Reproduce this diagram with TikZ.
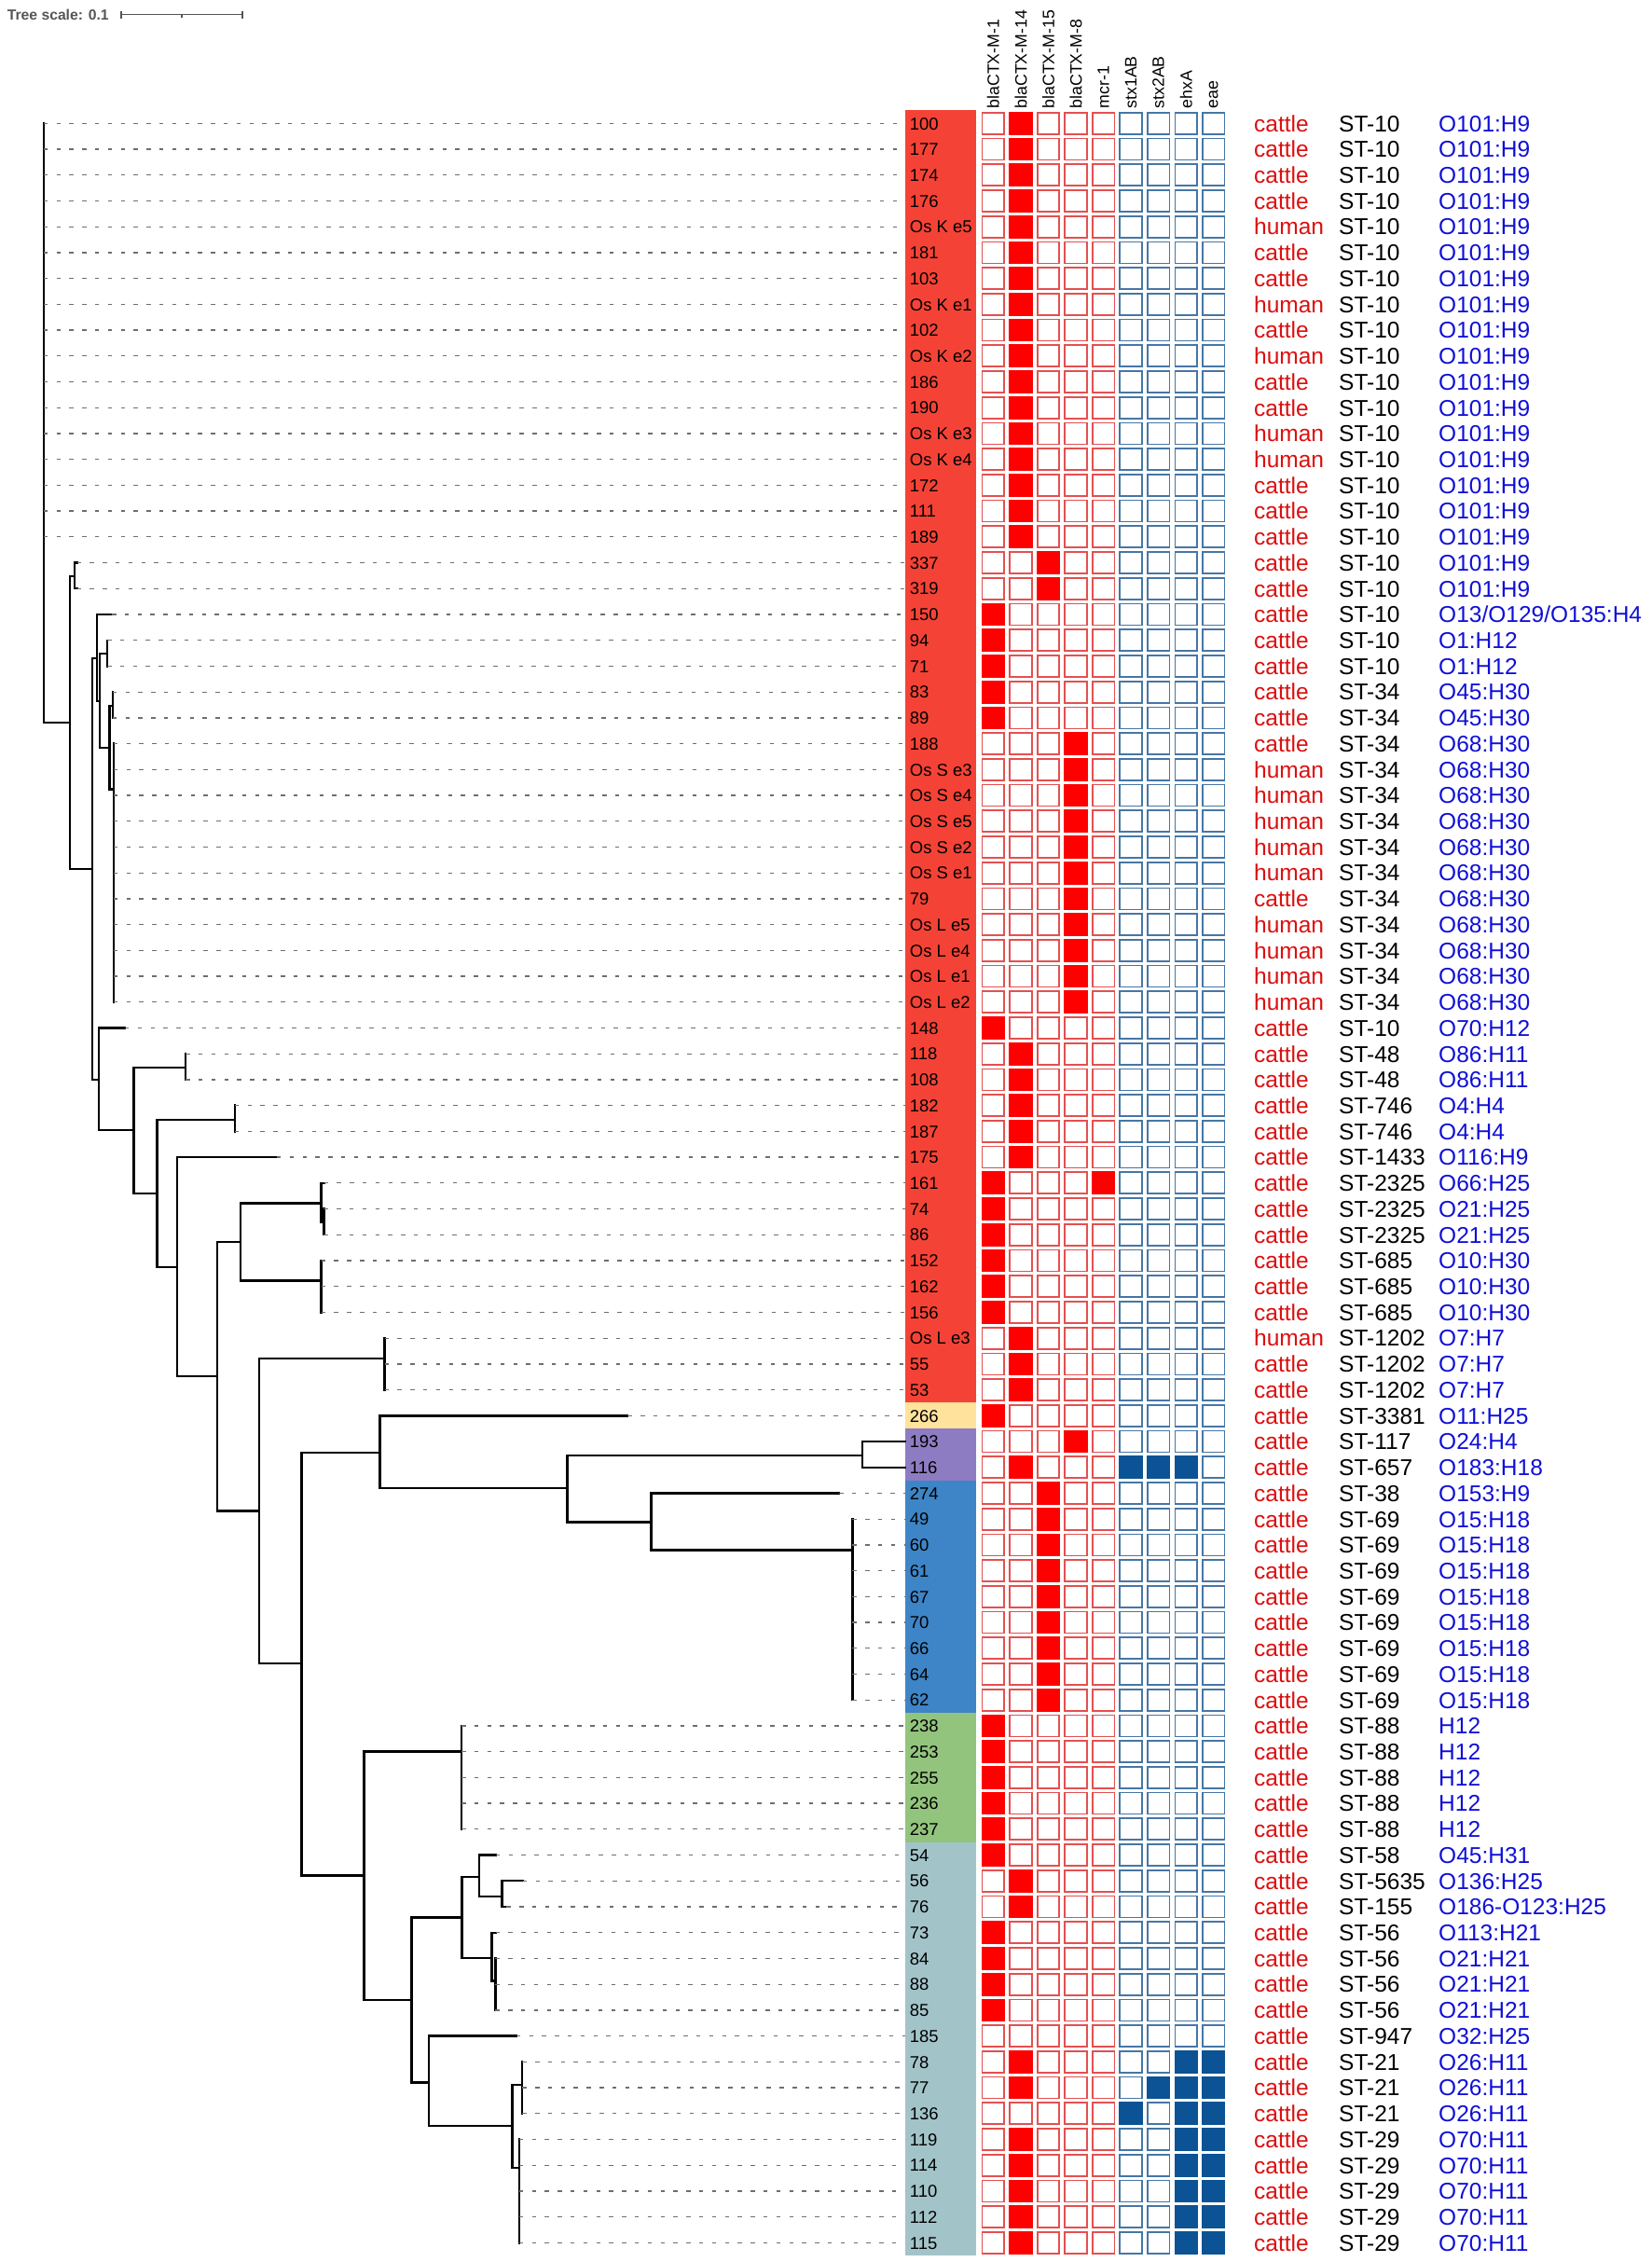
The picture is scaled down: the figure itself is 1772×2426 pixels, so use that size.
\documentclass[tikz,border=0pt]{standalone}
\usepackage{fontspec}
\setmainfont{Liberation Sans}
\definecolor{sred}{RGB}{244,67,54}
\definecolor{syellow}{RGB}{255,226,156}
\definecolor{spurple}{RGB}{142,124,195}
\definecolor{sblue}{RGB}{61,133,198}
\definecolor{sgreen}{RGB}{147,196,125}
\definecolor{steal}{RGB}{162,196,201}
\definecolor{boxred}{RGB}{228,80,80}
\definecolor{boxblue}{RGB}{70,118,165}
\definecolor{fillred}{RGB}{255,0,0}
\definecolor{fillblue}{RGB}{11,83,148}
\definecolor{hostred}{RGB}{220,15,15}
\definecolor{serblue}{RGB}{15,15,215}
\definecolor{dashgray}{RGB}{110,110,110}
\definecolor{scalegray}{RGB}{85,85,85}
\newcommand\tbh[3]{\draw[br] (#1,{ry(#3)}) -- (#2,{ry(#3)});}
\newcommand\tbv[3]{\draw[br] (#1,{ry(#2)}) -- (#1,{ry(#3)});}
\newcommand\tleaf[2]{\draw[dl] (#1,{ry(#2)}) -- (970.7,{ry(#2)});}
\newcommand\tsleaf[3]{\draw[br] (#1,{ry(#3)}) -- (#2,{ry(#3)}); \draw[dl] (#2,{ry(#3)}) -- (970.7,{ry(#3)});}
\newcommand\isorow[5]{%
  \node[lab] (l#1) at (975.7,{ry(#1)+6.7}) {#2};
  \node[host] (h#1) at (1345,{ry(#1)+8.8}) {#3};
  \node[stt] (s#1) at (1436,{ry(#1)+8.8}) {#4};
  \node[sero] (o#1) at (1543,{ry(#1)+8.8}) {#5};}
\newcommand\fillcol[3]{\foreach \r in {#3} {\node[#1] at ({1065.4+29.54*(#2-1)},{ry(\r)}) {};}}
\begin{document}
\begin{tikzpicture}[x=1pt,y=-1pt,
  declare function={ry(\r)=132.3+(\r-1)*27.72;},
  br/.style={line width=2.4pt,black,line cap=rect},
  dl/.style={line width=1.3pt,dashgray,dash pattern=on 4.5pt off 9.3pt},
  lab/.style={anchor=base west,inner sep=0pt,font=\fontsize{18.5}{20}\selectfont},
  host/.style={anchor=base west,inner sep=0pt,text=hostred,font=\fontsize{24.5}{26}\selectfont},
  stt/.style={anchor=base west,inner sep=0pt,text=black,font=\fontsize{24.5}{26}\selectfont},
  sero/.style={anchor=base west,inner sep=0pt,text=serblue,font=\fontsize{24.5}{26}\selectfont},
  head/.style={anchor=west,rotate=90,inner sep=0pt,font=\fontsize{17.7}{19}\selectfont},
  gbox/.style={rectangle,inner sep=0pt,minimum width=23.6pt,minimum height=23pt,line width=1.7pt},
  ered/.style={gbox,draw=boxred,fill=white},
  eblue/.style={gbox,draw=boxblue,fill=white},
  fred/.style={gbox,draw=fillred,fill=fillred},
  fblue/.style={gbox,draw=fillblue,fill=fillblue}]
\useasboundingbox (0,0) rectangle (1772,2426);
\fill[white] (0,0) rectangle (1772,2426);
% tree scale
\node[anchor=base west,inner sep=0pt,text=scalegray,font=\bfseries\fontsize{15.7}{17}\selectfont] (ts) at (7.7,21.3) {Tree scale: 0.1};
\coordinate (sb1) at (130,15.5);
\coordinate (sb2) at (260,15.5);
\draw[scalegray,line width=1.4pt] (sb1) -- (sb2);
\draw[scalegray,line width=1.4pt] (130,11.5) -- (130,19.5) (260,11.5) -- (260,19.5) (195,15.5) -- (195,18.5);
% colour strip
\fill[sred] (970.7,{ry(1)-13.86}) rectangle (1047.3,{ry(50)+13.86});
\fill[syellow] (970.7,{ry(51)-13.86}) rectangle (1047.3,{ry(51)+13.86});
\fill[spurple] (970.7,{ry(52)-13.86}) rectangle (1047.3,{ry(53)+13.86});
\fill[sblue] (970.7,{ry(54)-13.86}) rectangle (1047.3,{ry(62)+13.86});
\fill[sgreen] (970.7,{ry(63)-13.86}) rectangle (1047.3,{ry(67)+13.86});
\fill[steal] (970.7,{ry(68)-13.86}) rectangle (1047.3,{ry(83)+13.86});
% tree
\tbv{46.7}{1}{24.19}
\foreach \r in {1,...,17} {\tleaf{46.7}{\r}}
\tbh{46.7}{75}{24.19}
\tbv{75}{18.53}{29.84}
\tbh{75}{80}{18.53}
\tbv{80}{18}{19}
\tsleaf{80}{82.5}{18}
\tsleaf{80}{82.5}{19}
\tbh{75}{99}{29.84}
\tbv{99}{21.69}{38}
\tbh{99}{104}{21.69}
\tbv{104}{20.04}{23.35}
\tsleaf{104}{120}{20}
\tbh{104}{106.7}{23.35}
\tbv{106.7}{21.52}{25.15}
\tbh{106.7}{115}{21.52}
\tbv{115}{21}{22}
\tleaf{115}{21}
\tleaf{115}{22}
\tbh{106.7}{117.3}{25.15}
\tbv{117.3}{23.54}{26.76}
\tbh{117.3}{120.7}{23.54}
\tbv{120.7}{23}{24}
\tleaf{120.7}{23}
\tleaf{120.7}{24}
\tbh{117.3}{121.7}{26.76}
\tbv{121.7}{25}{35}
\foreach \r in {25,...,35} {\tleaf{121.7}{\r}}
\tbh{99}{106.25}{38}
\tbv{106.25}{36.04}{39.96}
\tsleaf{106.25}{133.9}{36}
\tbh{106.25}{143.3}{39.96}
\tbv{143.3}{37.53}{42.41}
\tbh{143.3}{199.1}{37.53}
\tbv{199.1}{37}{38}
\tleaf{199.1}{37}
\tleaf{199.1}{38}
\tbh{143.3}{168.3}{42.41}
\tbv{168.3}{39.55}{45.25}
\tbh{168.3}{251.8}{39.55}
\tbv{251.8}{39}{40}
\tleaf{251.8}{39}
\tleaf{251.8}{40}
\tbh{168.3}{189.7}{45.25}
\tbv{189.7}{41.04}{49.48}
\tsleaf{189.7}{296.9}{41}
\tbh{189.7}{233}{49.48}
\tbv{233}{44.28}{54.68}
\tbh{233}{258}{44.28}
\tbv{258}{42.78}{45.78}
\tbh{258}{344.6}{42.78}
\tbv{344.6}{42}{43.5}
\tsleaf{344.6}{347.5}{42}
\tbh{344.6}{347.3}{43.5}
\tbv{347.3}{43}{44}
\tleaf{347.3}{43}
\tleaf{347.3}{44}
\tbh{258}{344.6}{45.78}
\tbv{344.6}{45}{47}
\foreach \r in {45,46,47} {\tleaf{344.6}{\r}}
\tbh{233}{277.7}{54.68}
\tbv{277.7}{48.79}{60.59}
\tbh{277.7}{412.5}{48.79}
\tbv{412.5}{48}{50}
\foreach \r in {48,49,50} {\tleaf{412.5}{\r}}
\tbh{277.7}{323.4}{60.59}
\tbv{323.4}{52.43}{68.79}
\tbh{323.4}{407.6}{52.43}
\tbv{407.6}{51.03}{53.81}
\tsleaf{407.6}{673.2}{51}
\tbh{407.6}{608.5}{53.81}
\tbv{608.5}{52.53}{55.12}
\tbh{608.5}{925}{52.53}
\tbv{925}{52}{53}
\tbh{925}{970.7}{52}
\tbh{925}{970.7}{53}
\tbh{608.5}{698.3}{55.12}
\tbv{698.3}{54.04}{56.2}
\tsleaf{698.3}{900}{54}
\tbh{698.3}{914.3}{56.2}
\tbv{914.3}{55}{62}
\foreach \r in {55,...,62} {\tleaf{914.3}{\r}}
\tbh{323.4}{390.5}{68.79}
\tbv{390.5}{64}{73.6}
\tbh{390.5}{495}{64}
\tbv{495}{63}{67}
\foreach \r in {63,...,67} {\tleaf{495}{\r}}
\tbh{390.5}{441.3}{73.6}
\tbv{441.3}{70.41}{76.8}
\tbh{441.3}{495.5}{70.41}
\tbv{495.5}{68.85}{71.99}
\tbh{495.5}{513.9}{68.85}
\tbv{513.9}{68}{69.6}
\tsleaf{513.9}{531.8}{68}
\tbh{513.9}{538.3}{69.6}
\tbv{538.3}{69}{70}
\tsleaf{538.3}{560.7}{69}
\tsleaf{538.3}{543.3}{70}
\tbh{495.5}{527.4}{71.99}
\tbv{527.4}{71}{72.87}
\tsleaf{527.4}{531.5}{71}
\tbh{527.4}{531.3}{72.87}
\tbv{531.3}{72}{74}
\foreach \r in {72,73,74} {\tleaf{531.3}{\r}}
\tbh{441.3}{460.2}{76.8}
\tbv{460.2}{75}{78.48}
\tsleaf{460.2}{553.7}{75}
\tbh{460.2}{549.3}{78.48}
\tbv{549.3}{76.88}{80.09}
\tbh{549.3}{560.2}{76.88}
\tbv{560.2}{76}{78}
\foreach \r in {76,77,78} {\tleaf{560.2}{\r}}
\tbh{549.3}{556.7}{80.09}
\tbv{556.7}{79}{83}
\foreach \r in {79,...,83} {\tleaf{556.7}{\r}}
% headers
\foreach \c/\t in {1/blaCTX-M-1,2/blaCTX-M-14,3/blaCTX-M-15,4/blaCTX-M-8,5/mcr-1,6/stx1AB,7/stx2AB,8/ehxA,9/eae}
  {\node[head] (hd\c) at ({1065.4+29.54*(\c-1)},116.5) {\t};}
% boxes
\foreach \r in {1,...,83} {
  \foreach \c in {1,...,5} {\node[ered] at ({1065.4+29.54*(\c-1)},{ry(\r)}) {};}
  \foreach \c in {6,...,9} {\node[eblue] at ({1065.4+29.54*(\c-1)},{ry(\r)}) {};}
}
\fillcol{fred}{1}{20,21,22,23,24,36,42,43,44,45,46,47,51,63,64,65,66,67,68,71,72,73,74}
\fillcol{fred}{2}{1,2,3,4,5,6,7,8,9,10,11,12,13,14,15,16,17,37,38,39,40,41,48,49,50,53,69,70,76,77,79,80,81,82,83}
\fillcol{fred}{3}{18,19,54,55,56,57,58,59,60,61,62}
\fillcol{fred}{4}{25,26,27,28,29,30,31,32,33,34,35,52}
\fillcol{fred}{5}{42}
\fillcol{fblue}{6}{53,78}
\fillcol{fblue}{7}{53,77}
\fillcol{fblue}{8}{53,76,77,78,79,80,81,82,83}
\fillcol{fblue}{9}{76,77,78,79,80,81,82,83}
% rows
\isorow{1}{100}{cattle}{ST-10}{O101:H9}
\isorow{2}{177}{cattle}{ST-10}{O101:H9}
\isorow{3}{174}{cattle}{ST-10}{O101:H9}
\isorow{4}{176}{cattle}{ST-10}{O101:H9}
\isorow{5}{Os K e5}{human}{ST-10}{O101:H9}
\isorow{6}{181}{cattle}{ST-10}{O101:H9}
\isorow{7}{103}{cattle}{ST-10}{O101:H9}
\isorow{8}{Os K e1}{human}{ST-10}{O101:H9}
\isorow{9}{102}{cattle}{ST-10}{O101:H9}
\isorow{10}{Os K e2}{human}{ST-10}{O101:H9}
\isorow{11}{186}{cattle}{ST-10}{O101:H9}
\isorow{12}{190}{cattle}{ST-10}{O101:H9}
\isorow{13}{Os K e3}{human}{ST-10}{O101:H9}
\isorow{14}{Os K e4}{human}{ST-10}{O101:H9}
\isorow{15}{172}{cattle}{ST-10}{O101:H9}
\isorow{16}{111}{cattle}{ST-10}{O101:H9}
\isorow{17}{189}{cattle}{ST-10}{O101:H9}
\isorow{18}{337}{cattle}{ST-10}{O101:H9}
\isorow{19}{319}{cattle}{ST-10}{O101:H9}
\isorow{20}{150}{cattle}{ST-10}{O13/O129/O135:H4}
\isorow{21}{94}{cattle}{ST-10}{O1:H12}
\isorow{22}{71}{cattle}{ST-10}{O1:H12}
\isorow{23}{83}{cattle}{ST-34}{O45:H30}
\isorow{24}{89}{cattle}{ST-34}{O45:H30}
\isorow{25}{188}{cattle}{ST-34}{O68:H30}
\isorow{26}{Os S e3}{human}{ST-34}{O68:H30}
\isorow{27}{Os S e4}{human}{ST-34}{O68:H30}
\isorow{28}{Os S e5}{human}{ST-34}{O68:H30}
\isorow{29}{Os S e2}{human}{ST-34}{O68:H30}
\isorow{30}{Os S e1}{human}{ST-34}{O68:H30}
\isorow{31}{79}{cattle}{ST-34}{O68:H30}
\isorow{32}{Os L e5}{human}{ST-34}{O68:H30}
\isorow{33}{Os L e4}{human}{ST-34}{O68:H30}
\isorow{34}{Os L e1}{human}{ST-34}{O68:H30}
\isorow{35}{Os L e2}{human}{ST-34}{O68:H30}
\isorow{36}{148}{cattle}{ST-10}{O70:H12}
\isorow{37}{118}{cattle}{ST-48}{O86:H11}
\isorow{38}{108}{cattle}{ST-48}{O86:H11}
\isorow{39}{182}{cattle}{ST-746}{O4:H4}
\isorow{40}{187}{cattle}{ST-746}{O4:H4}
\isorow{41}{175}{cattle}{ST-1433}{O116:H9}
\isorow{42}{161}{cattle}{ST-2325}{O66:H25}
\isorow{43}{74}{cattle}{ST-2325}{O21:H25}
\isorow{44}{86}{cattle}{ST-2325}{O21:H25}
\isorow{45}{152}{cattle}{ST-685}{O10:H30}
\isorow{46}{162}{cattle}{ST-685}{O10:H30}
\isorow{47}{156}{cattle}{ST-685}{O10:H30}
\isorow{48}{Os L e3}{human}{ST-1202}{O7:H7}
\isorow{49}{55}{cattle}{ST-1202}{O7:H7}
\isorow{50}{53}{cattle}{ST-1202}{O7:H7}
\isorow{51}{266}{cattle}{ST-3381}{O11:H25}
\isorow{52}{193}{cattle}{ST-117}{O24:H4}
\isorow{53}{116}{cattle}{ST-657}{O183:H18}
\isorow{54}{274}{cattle}{ST-38}{O153:H9}
\isorow{55}{49}{cattle}{ST-69}{O15:H18}
\isorow{56}{60}{cattle}{ST-69}{O15:H18}
\isorow{57}{61}{cattle}{ST-69}{O15:H18}
\isorow{58}{67}{cattle}{ST-69}{O15:H18}
\isorow{59}{70}{cattle}{ST-69}{O15:H18}
\isorow{60}{66}{cattle}{ST-69}{O15:H18}
\isorow{61}{64}{cattle}{ST-69}{O15:H18}
\isorow{62}{62}{cattle}{ST-69}{O15:H18}
\isorow{63}{238}{cattle}{ST-88}{H12}
\isorow{64}{253}{cattle}{ST-88}{H12}
\isorow{65}{255}{cattle}{ST-88}{H12}
\isorow{66}{236}{cattle}{ST-88}{H12}
\isorow{67}{237}{cattle}{ST-88}{H12}
\isorow{68}{54}{cattle}{ST-58}{O45:H31}
\isorow{69}{56}{cattle}{ST-5635}{O136:H25}
\isorow{70}{76}{cattle}{ST-155}{O186-O123:H25}
\isorow{71}{73}{cattle}{ST-56}{O113:H21}
\isorow{72}{84}{cattle}{ST-56}{O21:H21}
\isorow{73}{88}{cattle}{ST-56}{O21:H21}
\isorow{74}{85}{cattle}{ST-56}{O21:H21}
\isorow{75}{185}{cattle}{ST-947}{O32:H25}
\isorow{76}{78}{cattle}{ST-21}{O26:H11}
\isorow{77}{77}{cattle}{ST-21}{O26:H11}
\isorow{78}{136}{cattle}{ST-21}{O26:H11}
\isorow{79}{119}{cattle}{ST-29}{O70:H11}
\isorow{80}{114}{cattle}{ST-29}{O70:H11}
\isorow{81}{110}{cattle}{ST-29}{O70:H11}
\isorow{82}{112}{cattle}{ST-29}{O70:H11}
\isorow{83}{115}{cattle}{ST-29}{O70:H11}
\end{tikzpicture}
\end{document}
